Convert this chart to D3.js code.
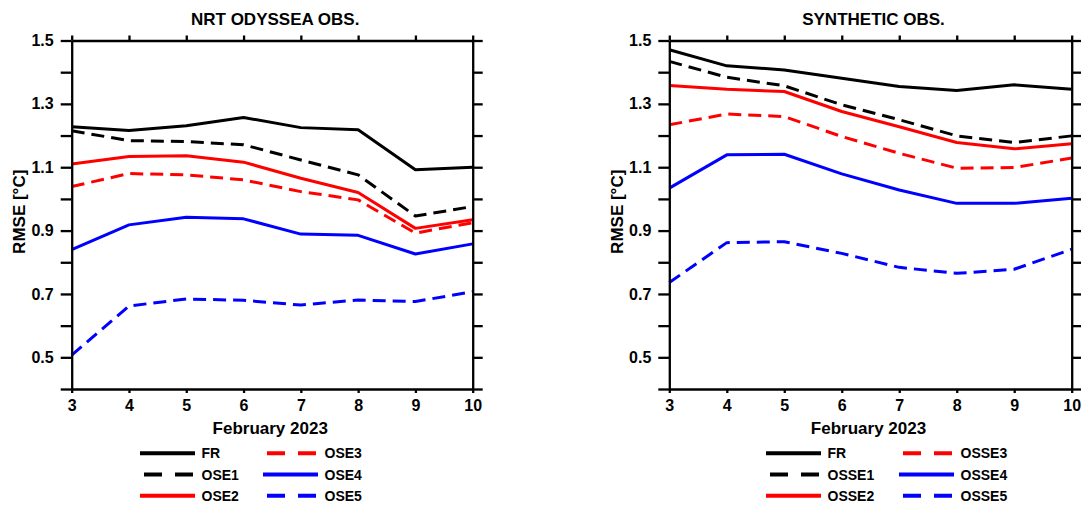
<!DOCTYPE html>
<html>
<head>
<meta charset="utf-8">
<script src="https://cdn.jsdelivr.net/npm/d3@7"></script>
<style>
  html, body { margin: 0; padding: 0; background: #fff; }
  svg { display: block; }
  text { font-family: "Liberation Sans", Arial, sans-serif; font-weight: bold; fill: #000; }
</style>
</head>
<body>
<svg id="chart" width="1081" height="506"></svg>
<script>
// ---------------- DATA ----------------
const days = [3, 4, 5, 6, 7, 8, 9, 10];
const yTickLabels = [0.5, 0.7, 0.9, 1.1, 1.3, 1.5];
const xTitle = "February 2023";
const yTitle = "RMSE [°C]";

const leftTitle = "NRT ODYSSEA OBS.";
const leftNames = ["FR", "OSE1", "OSE2", "OSE3", "OSE4", "OSE5"];
const nrtFR   = [1.228, 1.216, 1.231, 1.257, 1.225, 1.218, 1.092, 1.100];
const nrtOSE1 = [1.215, 1.184, 1.181, 1.171, 1.123, 1.076, 0.946, 0.976];
const nrtOSE2 = [1.110, 1.134, 1.136, 1.116, 1.065, 1.020, 0.907, 0.934];
const nrtOSE3 = [1.039, 1.080, 1.076, 1.060, 1.023, 0.997, 0.892, 0.925];
const nrtOSE4 = [0.840, 0.918, 0.942, 0.937, 0.889, 0.885, 0.826, 0.858];
const nrtOSE5 = [0.507, 0.662, 0.684, 0.680, 0.665, 0.681, 0.676, 0.707];

const rightTitle = "SYNTHETIC OBS.";
const rightNames = ["FR", "OSSE1", "OSSE2", "OSSE3", "OSSE4", "OSSE5"];
const synFR    = [1.471, 1.420, 1.407, 1.381, 1.355, 1.342, 1.360, 1.346];
const synOSSE1 = [1.434, 1.384, 1.357, 1.297, 1.250, 1.199, 1.178, 1.199];
const synOSSE2 = [1.358, 1.346, 1.339, 1.276, 1.228, 1.178, 1.158, 1.174];
const synOSSE3 = [1.234, 1.268, 1.260, 1.197, 1.144, 1.097, 1.099, 1.129];
const synOSSE4 = [1.034, 1.139, 1.141, 1.079, 1.028, 0.986, 0.986, 1.002];
const synOSSE5 = [0.736, 0.862, 0.865, 0.828, 0.784, 0.765, 0.778, 0.841];

const seriesColors = ["#000000", "#000000", "#ff0000", "#ff0000", "#0000ff", "#0000ff"];
const seriesDashed = [false, true, false, true, false, true];

// ---------------- LAYOUT ----------------
const svg = d3.select("#chart");
const plotTop = 40.5, plotBottom = 389;
const yDomain = [0.4, 1.5];
const minorTicks = d3.range(4, 16).map(d => d / 10);

const panels = [
  { x0: 71.7, x1: 472.7, title: leftTitle, names: leftNames,
    data: [nrtFR, nrtOSE1, nrtOSE2, nrtOSE3, nrtOSE4, nrtOSE5],
    legX: [140, 263], legLabelGap: 61.5 },
  { x0: 669.3, x1: 1071.7, title: rightTitle, names: rightNames,
    data: [synFR, synOSSE1, synOSSE2, synOSSE3, synOSSE4, synOSSE5],
    legX: [766, 899], legLabelGap: 61.5 }
];

const legendRows = [453.3, 474.5, 495.7];

panels.forEach(p => {
  const x = d3.scaleLinear().domain([3, 10]).range([p.x0, p.x1]);
  const y = d3.scaleLinear().domain(yDomain).range([plotBottom, plotTop]);
  const g = svg.append("g");

  const fmt = v => yTickLabels.some(t => Math.abs(t - v) < 1e-6) ? d3.format(".1f")(v) : "";

  const line = d3.line().x((d, i) => x(days[i])).y(d => y(d));
  p.data.forEach((vals, k) => {
    g.append("path")
      .datum(vals)
      .attr("d", line)
      .attr("fill", "none")
      .attr("stroke", seriesColors[k])
      .attr("stroke-width", 3)
      .attr("stroke-linejoin", "round")
      .attr("stroke-dasharray", seriesDashed[k] ? "13,7" : null);
  });

  const styleAxis = sel => {
    sel.selectAll("path, line").attr("stroke", "#000").attr("stroke-width", 2.3);
    sel.selectAll("text").style("font-size", "16px").attr("fill", "#000");
  };

  g.append("g").attr("transform", `translate(${p.x0},0)`)
    .call(d3.axisLeft(y).tickValues(minorTicks).tickFormat(fmt).tickSize(11).tickSizeOuter(0).tickPadding(7))
    .call(styleAxis);
  g.append("g").attr("transform", `translate(${p.x1},0)`)
    .call(d3.axisRight(y).tickValues(minorTicks).tickFormat(() => "").tickSize(10).tickSizeOuter(0))
    .call(styleAxis);
  g.append("g").attr("transform", `translate(0,${plotTop})`)
    .call(d3.axisTop(x).tickValues(days).tickFormat(() => "").tickSize(5).tickSizeOuter(0))
    .call(styleAxis);
  g.append("g").attr("transform", `translate(0,${plotBottom})`)
    .call(d3.axisBottom(x).tickValues(days).tickFormat(d3.format("d")).tickSize(4).tickSizeOuter(0).tickPadding(7))
    .call(styleAxis);

  const cx = (p.x0 + p.x1) / 2;
  g.append("text").attr("x", cx + 3).attr("y", 25)
    .attr("text-anchor", "middle").style("font-size", "17px").text(p.title);
  g.append("text").attr("x", cx - 2).attr("y", 434)
    .attr("text-anchor", "middle").style("font-size", "17px").text(xTitle);
  g.append("text")
    .attr("transform", `translate(${p.x0 - 46.5},${(plotTop + plotBottom) / 2 - 3}) rotate(-90)`)
    .attr("text-anchor", "middle").style("font-size", "17px").text(yTitle);

  p.names.forEach((name, k) => {
    const col = Math.floor(k / 3), row = k % 3;
    const lx = p.legX[col], ly = legendRows[row];
    const dashed = seriesDashed[k];
    g.append("line")
      .attr("x1", dashed ? lx + 4 : lx).attr("x2", dashed ? lx + 53 : lx + 55)
      .attr("y1", ly).attr("y2", ly)
      .attr("stroke", seriesColors[k]).attr("stroke-width", 4)
      .attr("stroke-dasharray", dashed ? "18,13" : null);
    g.append("text").attr("x", lx + p.legLabelGap).attr("y", ly + 5)
      .style("font-size", "14px").text(name);
  });
});
</script>
</body>
</html>
